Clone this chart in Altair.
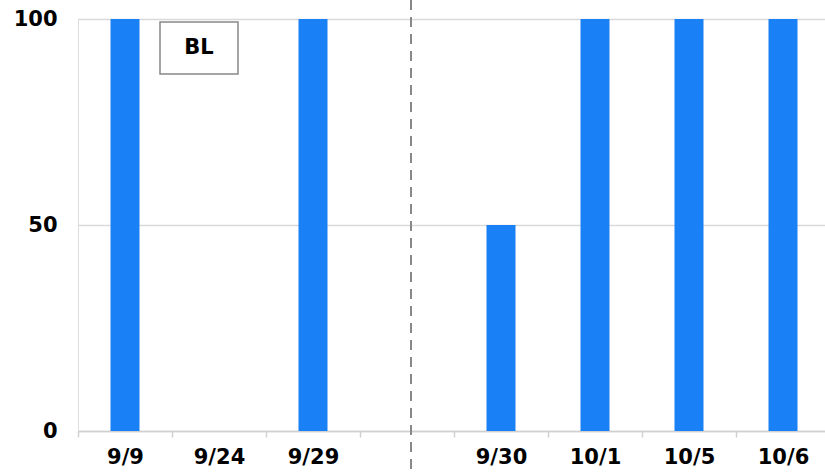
import altair as alt
import pandas as pd

categories = ["9/9", "9/24", "9/29", " ", "9/30", "10/1", "10/5", "10/6"]
values = [100, 0, 100, None, 50, 100, 100, 100]
divider_at = [" "]
box_label = ["BL"]

df = pd.DataFrame({"date": categories, "value": values})
FONT = "DejaVu Sans"
W, H = 747, 412

xscale = alt.Scale(domain=categories, range=[0, 752], paddingInner=0, paddingOuter=0)

bars = alt.Chart(df).mark_bar(size=29, color="#1a80f5").encode(
    x=alt.X("date:N", sort=categories, scale=xscale,
            axis=alt.Axis(title=None, labelAngle=0, labelFont=FONT, labelFontSize=21,
                          labelFontWeight="bold", labelColor="#000", tickBand="extent",
                          tickColor="#d0d0d0", tickSize=6, tickWidth=1.5,
                          domainColor="#d0d0d0", domainWidth=1.5, labelPadding=9)),
    y=alt.Y("value:Q", scale=alt.Scale(domain=[0, 100], nice=False),
            axis=alt.Axis(title=None, values=[0, 50, 100], labelFont=FONT, labelFontSize=21,
                          labelFontWeight="bold", labelColor="#000", ticks=False,
                          domain=False, gridColor="#d9d9d9", gridWidth=1.5, labelPadding=21)),
)

rule = alt.Chart(pd.DataFrame({"date": divider_at})).mark_rule(
    color="#888888", strokeWidth=2, strokeDash=[10, 7], xOffset=4
).encode(
    x=alt.X("date:N", sort=categories, scale=xscale),
    y=alt.value(-19), y2=alt.value(H + 50),
)

box = alt.Chart(pd.DataFrame({"t": box_label})).mark_rect(
    fill="white", stroke="#888888", strokeWidth=1.5
).encode(x=alt.value(82), x2=alt.value(160), y=alt.value(3), y2=alt.value(55))

txt = alt.Chart(pd.DataFrame({"t": box_label})).mark_text(
    font=FONT, fontSize=21, fontWeight="bold", color="#000"
).encode(text="t:N", x=alt.value(121), y=alt.value(29))

chart = alt.layer(bars, rule, box, txt).properties(
    width=W, height=H,
    autosize=alt.AutoSizeParams(type="none"),
    padding={"left": 78, "top": 19, "right": 0, "bottom": 44},
).configure_view(stroke=None).configure(background="white")

chart.save("out.html", embed_options={"renderer": "svg", "actions": False})
